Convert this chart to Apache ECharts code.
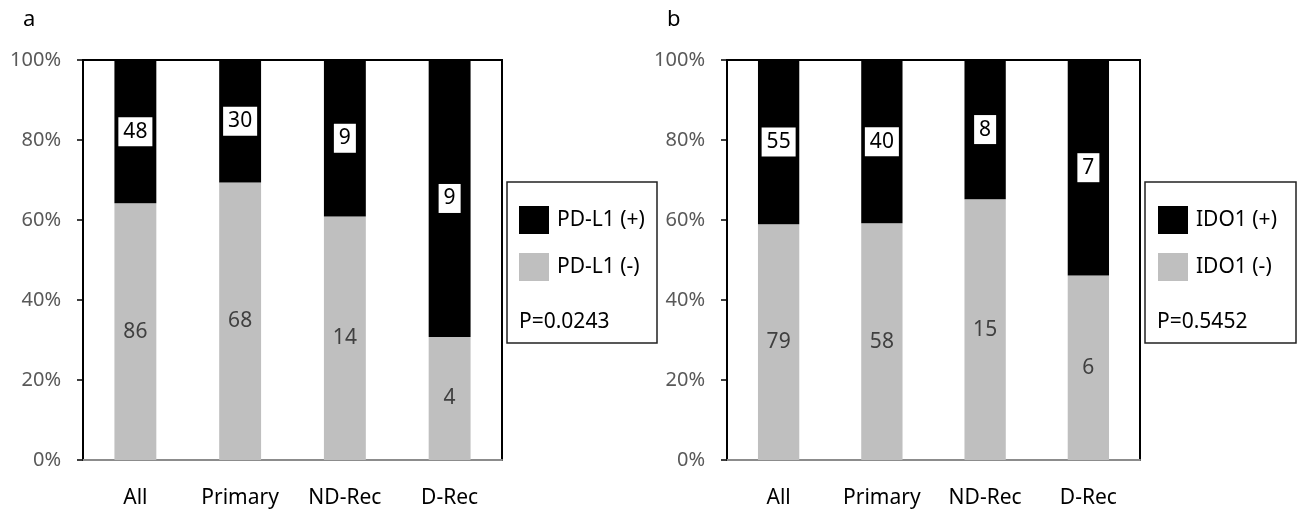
<!DOCTYPE html>
<html>
<head>
<meta charset="utf-8">
<script src="https://cdn.jsdelivr.net/npm/echarts@6/dist/echarts.min.js"></script>
<style>
  html, body { margin: 0; padding: 0; background: #fff; }
  #chart { width: 1304px; height: 509px; }
</style>
</head>
<body>
<div id="chart"></div>
<script>
// categories and counts
var categories = ['All', 'Primary', 'ND-Rec', 'D-Rec'];
var yTicks = [0, 20, 40, 60, 80, 100];

var pdl1Pos = [48, 30, 9, 9];
var pdl1Neg = [86, 68, 14, 4];
var pdl1P = 'P=0.0243';

var ido1Pos = [55, 40, 8, 7];
var ido1Neg = [79, 58, 15, 6];
var ido1P = 'P=0.5452';

var FONT = 'Noto Sans';

// share of each count in its column, in %
function share(part, other) {
  return part.map(function (v, i) { return v / (v + other[i]) * 100; });
}

function xAxisFor(idx) {
  return {
    type: 'category',
    gridIndex: idx,
    data: categories,
    axisLine: { lineStyle: { color: '#8c8c8c', width: 2 } },
    axisTick: { show: false },
    axisLabel: { color: '#000', fontSize: 21, fontFamily: FONT, margin: 28 }
  };
}

function yAxisFor(idx) {
  return {
    type: 'value',
    gridIndex: idx,
    min: yTicks[0],
    max: yTicks[yTicks.length - 1],
    interval: yTicks[1] - yTicks[0],
    axisLine: { show: true, lineStyle: { color: '#000', width: 2 } },
    axisTick: { show: true, length: 6, lineStyle: { color: '#000', width: 1.5 } },
    splitLine: { show: false },
    axisLabel: { color: '#595959', fontSize: 20, fontFamily: FONT, margin: 22, formatter: '{value}%' }
  };
}

function barPair(idx, names, pos, neg) {
  var stack = 's' + idx;
  return [
    {
      name: names[1], type: 'bar', stack: stack, xAxisIndex: idx, yAxisIndex: idx,
      barWidth: '40%',
      data: share(neg, pos),
      itemStyle: { color: '#bfbfbf' },
      label: {
        show: true, position: 'inside', color: '#404040', fontSize: 21, fontFamily: FONT,
        formatter: function (p) { return neg[p.dataIndex]; }
      }
    },
    {
      name: names[0], type: 'bar', stack: stack, xAxisIndex: idx, yAxisIndex: idx,
      barWidth: '40%',
      data: share(pos, neg),
      itemStyle: { color: '#000' },
      label: {
        show: true, position: 'inside', color: '#000', fontSize: 21, fontFamily: FONT,
        backgroundColor: '#fff', padding: [5, 5, 3, 5],
        formatter: function (p) { return pos[p.dataIndex]; }
      }
    }
  ];
}

function legendFor(names, left) {
  return {
    orient: 'vertical', left: left, top: 201,
    data: [names[0], names[1]],
    icon: 'rect',
    itemWidth: 30, itemHeight: 28, itemGap: 19,
    selectedMode: false,
    textStyle: { color: '#000', fontSize: 21, fontFamily: FONT, padding: [0, 0, 0, 3] }
  };
}

function boxFor(x, w, ptext) {
  return [
    { type: 'rect', shape: { x: x, y: 182, width: w, height: 161 },
      style: { fill: 'none', stroke: '#222', lineWidth: 1.5 } },
    { type: 'text', x: x + 12, y: 322,
      style: { text: ptext, fill: '#000', font: '21px ' + FONT, verticalAlign: 'middle' } }
  ];
}

var pdNames = ['PD-L1 (+)', 'PD-L1 (-)'];
var idoNames = ['IDO1 (+)', 'IDO1 (-)'];

var chart = echarts.init(document.getElementById('chart'));
chart.setOption({
  animation: false,
  grid: [
    { left: 83, right: 802, top: 60, bottom: 49, show: true, borderColor: '#000', borderWidth: 2 },
    { left: 727, right: 164, top: 60, bottom: 49, show: true, borderColor: '#000', borderWidth: 2 }
  ],
  xAxis: [xAxisFor(0), xAxisFor(1)],
  yAxis: [yAxisFor(0), yAxisFor(1)],
  legend: [legendFor(pdNames, 514), legendFor(idoNames, 1153)],
  series: barPair(0, pdNames, pdl1Pos, pdl1Neg).concat(barPair(1, idoNames, ido1Pos, ido1Neg)),
  graphic: [
    { type: 'text', x: 23, y: 20, style: { text: 'a', fill: '#000', font: '22px ' + FONT, verticalAlign: 'middle' } },
    { type: 'text', x: 667, y: 20, style: { text: 'b', fill: '#000', font: '22px ' + FONT, verticalAlign: 'middle' } }
  ].concat(boxFor(507, 150, pdl1P), boxFor(1145, 151, ido1P))
});
</script>
</body>
</html>
